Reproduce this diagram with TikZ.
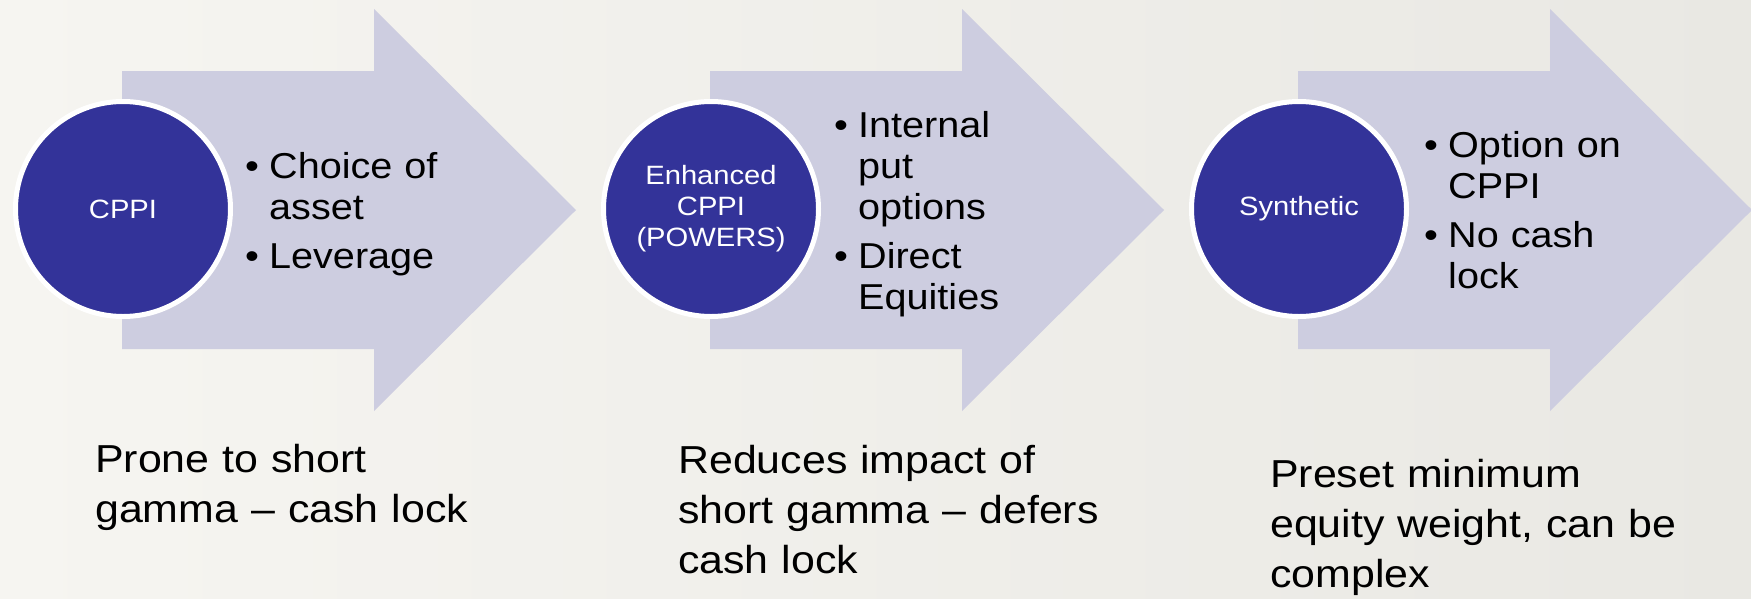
\documentclass[tikz,border=0pt]{standalone}
\usepackage{fontspec}
\setmainfont{Liberation Sans}[FakeStretch=1.1]
\definecolor{hubBlue}{RGB}{51,51,153}
\definecolor{arrowFill}{RGB}{205,205,224}
\definecolor{paperLeft}{RGB}{246,245,241}
\definecolor{paperRight}{RGB}{233,232,227}
% one bullet point, hanging under its own text (break lines with \newline)
\newcommand{\itm}[1]{\parskip=8pt\hangindent=24pt\hangafter=1\noindent\makebox[24pt][l]{\textbullet}#1\par}
\tikzset{
  hub/.style={circle,fill=hubBlue,draw=white,line width=5pt,minimum size=215pt,
    inner sep=0pt,text=white,align=center,font=\fontsize{26.5}{31}\selectfont},
  pts/.style={anchor=base west,inner sep=0pt,text width=240pt,align=left,
    font=\fontsize{36}{41}\selectfont},
  note/.style={anchor=base west,inner sep=0pt,text width=450pt,align=left,
    font=\fontsize{39}{50}\selectfont}
}

\begin{document}
\begin{tikzpicture}[x=1pt,y=-1pt]
  \useasboundingbox (0,0) rectangle (1751,598);
  \shade[left color=paperLeft,right color=paperRight] (0,0) rectangle (1751,598);

  % the three block arrows
  \fill[arrowFill] (122,71) -- (374,71) -- (374,9) -- (576,210) -- (374,411) -- (374,349) -- (122,349) -- cycle;
  \fill[arrowFill] (710,71) -- (962,71) -- (962,9) -- (1164,210) -- (962,411) -- (962,349) -- (710,349) -- cycle;
  \fill[arrowFill] (1298,71) -- (1550,71) -- (1550,9) -- (1752,210) -- (1550,411) -- (1550,349) -- (1298,349) -- cycle;

  % circles at the tails
  \node[hub] (cppi) at (123,209) {CPPI};
  \node[hub] (enh) at (711,209) {Enhanced\\CPPI\\(POWERS)};
  \node[hub] (syn) at (1299,209) {Synthetic};

  % bullet points inside the arrows
  \node[pts] (cppiPts) at (245,178) {\itm{Choice of\newline asset}\itm{Leverage}};
  \node[pts] (enhPts) at (834,137) {\itm{Internal\newline put\newline options}\itm{Direct\newline Equities}};
  \node[pts] (synPts) at (1424,157) {\itm{Option on\newline CPPI}\itm{No cash\newline lock}};

  % remarks under each arrow
  \node[note] (cppiNote) at (95,472) {Prone to short\\gamma -- cash lock};
  \node[note] (enhNote) at (678,473) {Reduces impact of\\short gamma -- defers\\cash lock};
  \node[note] (synNote) at (1270,487) {Preset minimum\\equity weight, can be\\complex};
\end{tikzpicture}
\end{document}
